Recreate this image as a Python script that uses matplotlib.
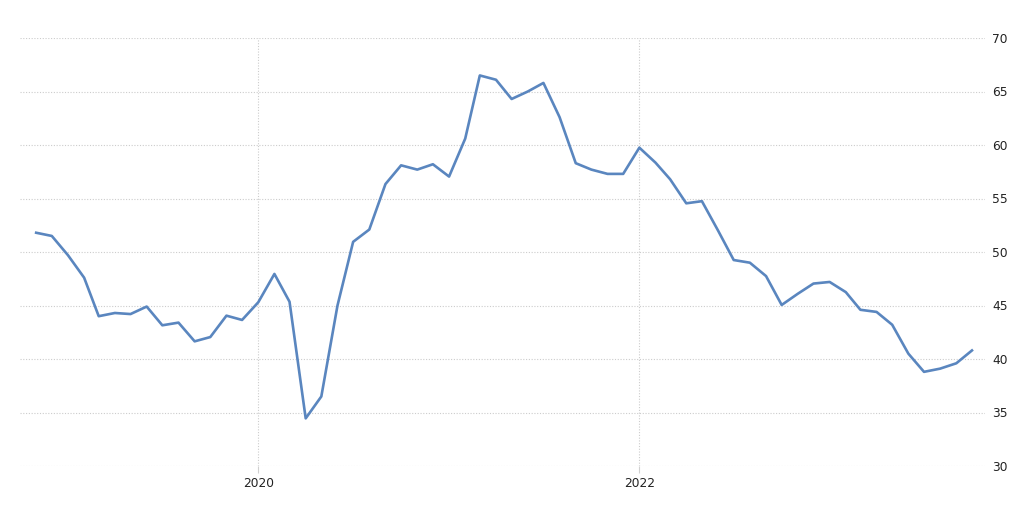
import matplotlib
matplotlib.use("Agg")
import matplotlib.pyplot as plt
import matplotlib.dates as mdates
import pandas as pd
import datetime as dt

dates = pd.date_range("2018-11-01", "2023-10-01", freq="MS")
values = [51.8, 51.5, 49.7, 47.6, 44.0, 44.3, 44.2, 44.9, 43.15, 43.4, 41.65, 42.05,
          44.05, 43.65, 45.3, 47.95, 45.35, 34.45, 36.5, 45.0, 50.95, 52.1, 56.35, 58.1,
          57.7, 58.2, 57.05, 60.6, 66.5, 66.1, 64.3, 65.0, 65.8, 62.6, 58.3, 57.7,
          57.3, 57.3, 59.75, 58.35, 56.8, 54.55, 54.75, 52.0, 49.25, 49.0, 47.75, 45.05,
          46.1, 47.05, 47.2, 46.25, 44.6, 44.4, 43.2, 40.5, 38.8, 39.1, 39.6, 40.8]
yticks = [30, 35, 40, 45, 50, 55, 60, 65, 70]
xtick_labels = ["2020", "2022"]

W, H = 1023, 505
fig = plt.figure(figsize=(W / 100, H / 100), dpi=100)
ax = fig.add_axes([20 / W, (H - 466) / H, (985 - 20) / W, (466 - 38) / H])

ax.plot(dates, values, color="#5a86bf", lw=1.9, solid_joinstyle="round")

ax.set_ylim(30, 70)
ax.set_xlim(dt.datetime(2018, 10, 1), dt.datetime(2023, 10, 26))
ax.set_yticks(yticks)
ax.set_yticklabels([str(v) for v in yticks])
xt = [dt.datetime(int(s), 1, 1) for s in xtick_labels]
ax.set_xticks(xt)
ax.set_xticklabels(xtick_labels)

ax.yaxis.tick_right()
ax.tick_params(axis="y", length=0, pad=5, labelsize=8.8, labelcolor="#222222")
ax.tick_params(axis="x", length=5, width=0.8, color="#d0d0d0", pad=3,
               labelsize=8.8, labelcolor="#222222")
ax.grid(True, color="#cccccc", lw=0.8, linestyle=(0, (1, 1.5)))
ax.set_axisbelow(True)
for s in ax.spines.values():
    s.set_visible(False)

fig.savefig("out.png", dpi=100)
